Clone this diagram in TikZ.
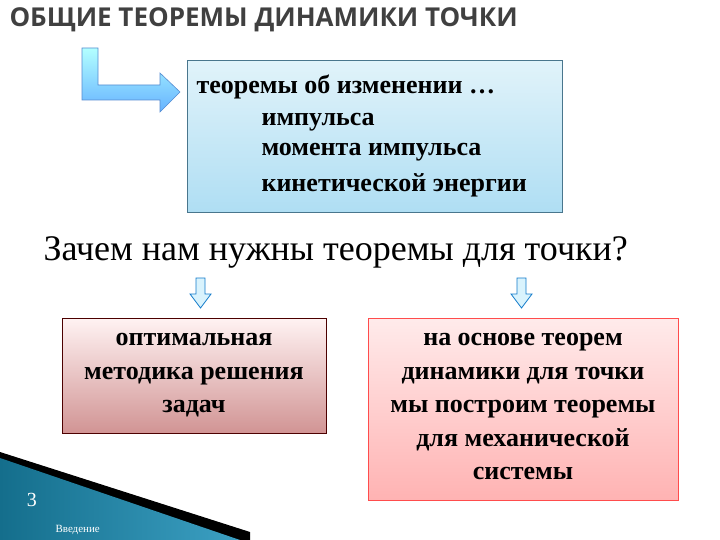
\documentclass[tikz,border=0pt]{standalone}
\usepackage{fontspec}
\setmainfont{Liberation Serif}
\newfontfamily\titlefont{Open Sans}
\definecolor{skyb}{RGB}{175,222,243}
\definecolor{skyt}{RGB}{225,243,250}
\definecolor{teal1}{RGB}{20,110,140}
\definecolor{teal2}{RGB}{60,160,195}
\begin{document}
\begin{tikzpicture}[x=1pt,y=-1pt,
  txt/.style={font=\bfseries\fontsize{26}{33.5}\selectfont, align=center},
  bt/.style={anchor=west, font=\bfseries\fontsize{26}{26}\selectfont},
  downarr/.style={draw=cyan!60!blue, fill=cyan!15, line width=0.8pt}]
\useasboundingbox (0,0) rectangle (720,540);
% bottom wedge
\fill[black] (0,452) -- (250,532) -- (250,540) -- (0,540) -- cycle;
\shade[left color=teal1, right color=teal2] (0,458) -- (240,540) -- (0,540) -- cycle;
\node[text=white, font=\fontsize{20}{20}\selectfont] (pn) at (32,500) {3};
\node[text=white, font=\fontsize{11}{11}\selectfont, anchor=west] (intro) at (52,530) {Введение};
% title
\node[anchor=west, text=black!75, font=\titlefont\bfseries\fontsize{26}{26}\selectfont] (title) at (6,20) {ОБЩИЕ ТЕОРЕМЫ ДИНАМИКИ ТОЧКИ};
% L arrow
\shade[top color=cyan!30, bottom color=cyan!50!blue!60, draw=cyan!50!blue!70, line width=0.6pt]
 (82,48) -- (98,48) -- (98,85) -- (160,85) -- (160,73) -- (180,92) -- (160,112) -- (160,100) -- (82,100) -- cycle;
% top box
\node[draw=cyan!50!black, line width=0.6pt, top color=skyt, bottom color=skyb, minimum width=375, minimum height=152, anchor=north west] (top) at (187,60) {};
\node[bt] (t1) at (193,87) {теоремы об изменении …};
\node[bt] (t2) at (258,122) {импульса};
\node[bt] (t3) at (258,152) {момента импульса};
\node[bt] (t4) at (258,185) {кинетической энергии};
% question
\node[anchor=west, font=\fontsize{36}{36}\selectfont] (q) at (40,252) {Зачем нам нужны теоремы для точки?};
% down arrows
\path[downarr] (196,278) -- (205,278) -- (205,294) -- (211,294) -- (200.5,308) -- (190,294) -- (196,294) -- cycle;
\path[downarr] (517,278) -- (526,278) -- (526,294) -- (532,294) -- (521.5,308) -- (511,294) -- (517,294) -- cycle;
% left box
\node[draw=red!30!black, line width=0.6pt, top color=red!5, bottom color=red!40!gray!60, minimum width=264, minimum height=115, anchor=north west] (lb) at (62,318) {};
\node[txt, anchor=north] (lt) at (194,330) {оптимальная\\методика решения\\задач};
% right box
\node[draw=red!70, line width=0.6pt, top color=red!8, bottom color=red!30, minimum width=310, minimum height=182, anchor=north west] (rb) at (368,318) {};
\node[txt, anchor=north] (rt) at (523,330) {на основе теорем\\динамики для точки\\мы построим теоремы\\для механической\\системы};
\end{tikzpicture}
\end{document}
